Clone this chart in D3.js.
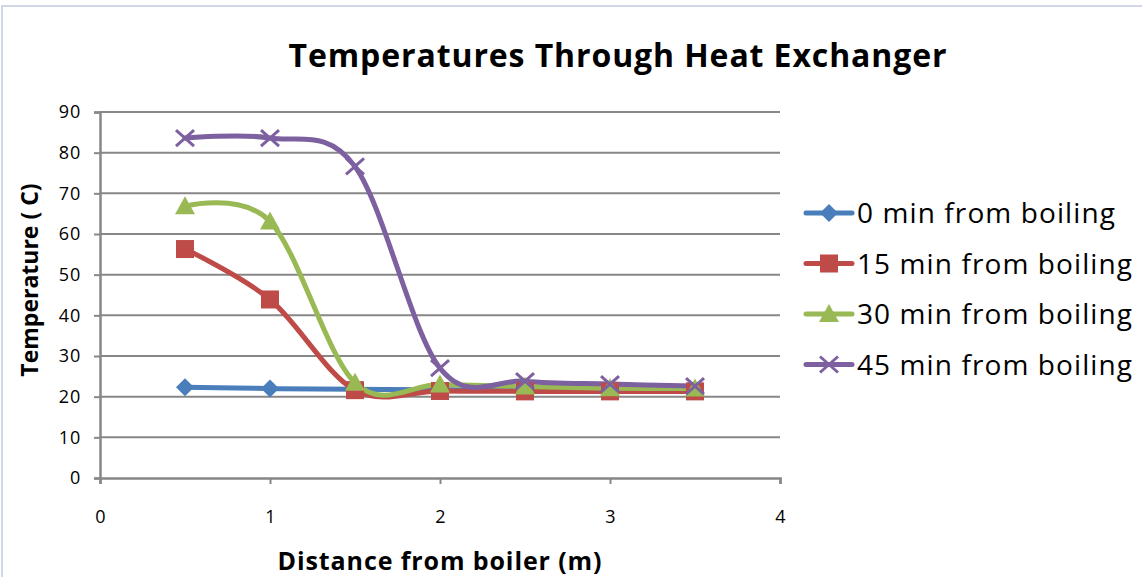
<!DOCTYPE html>
<html>
<head>
<meta charset="utf-8">
<script src="https://cdn.jsdelivr.net/npm/d3@7"></script>
<style>
  html, body { margin: 0; padding: 0; background: #fff; }
  svg { display: block; }
  text { font-family: "Open Sans", "Noto Sans", sans-serif; fill: #000; }
</style>
</head>
<body>
<svg id="chart" width="1142" height="577"></svg>
<script>
// Distance from boiler (m)
const distances = [0.5, 1, 1.5, 2, 2.5, 3, 3.5];

// Temperature (C) for each time after boiling
const temps0  = [22.3, 22.0, 21.8, 21.7, 21.6, 21.5, 21.5];
const temps15 = [56.3, 43.9, 21.6, 21.4, 21.3, 21.3, 21.3];
const temps30 = [66.8, 63.1, 23.4, 23.0, 22.5, 22.1, 22.0];
const temps45 = [83.6, 83.6, 76.6, 27.0, 23.8, 23.1, 22.6];

const seriesNames = ["0 min from boiling", "15 min from boiling", "30 min from boiling", "45 min from boiling"];
const seriesColors = ["#4A7EBB", "#BE4B48", "#98B954", "#7D60A0"];
const seriesMarkers = ["diamond", "square", "triangle", "cross"];

const xTicks = [0, 1, 2, 3, 4];
const yTicks = [0, 10, 20, 30, 40, 50, 60, 70, 80, 90];

const series = [temps0, temps15, temps30, temps45].map((vals, i) => ({
  name: seriesNames[i],
  color: seriesColors[i],
  marker: seriesMarkers[i],
  points: distances.map((d, j) => ({ x: d, y: vals[j] }))
}));

const svg = d3.select("#chart");

// outer chart frame
svg.append("path")
  .attr("d", "M2,577 L2,6 L1142,6")
  .attr("fill", "none")
  .attr("stroke", "#D0D7E5")
  .attr("stroke-width", 2);

const plot = { left: 100, right: 780, top: 112, bottom: 478 };

const x = d3.scaleLinear().domain([0, 4]).range([plot.left, plot.right]);
const y = d3.scaleLinear().domain([0, 90]).range([plot.bottom, plot.top]);

// horizontal gridlines
svg.append("g")
  .selectAll("line")
  .data(yTicks.filter(t => t > 0))
  .join("line")
  .attr("x1", plot.left).attr("x2", plot.right)
  .attr("y1", d => y(d)).attr("y2", d => y(d))
  .attr("stroke", "#878787")
  .attr("stroke-width", 2);

// y axis
const yAxis = svg.append("g")
  .attr("transform", `translate(${plot.left},0)`)
  .call(d3.axisLeft(y).tickValues(yTicks).tickSize(6).tickPadding(13));
yAxis.attr("font-size", null).attr("font-family", null);
yAxis.select(".domain").attr("stroke", "#878787").attr("stroke-width", 2.5);
yAxis.selectAll(".tick line").attr("stroke", "#878787").attr("stroke-width", 2);
yAxis.selectAll(".tick text")
  .style("font-size", "18px")
  .style("letter-spacing", "0.8px")
  .attr("fill", "#000");

// x axis
const xAxis = svg.append("g")
  .attr("transform", `translate(0,${plot.bottom})`)
  .call(d3.axisBottom(x).tickValues(xTicks).tickFormat(d3.format("d")).tickSize(6).tickPadding(26));
xAxis.attr("font-size", null).attr("font-family", null);
xAxis.select(".domain").attr("stroke", "#878787").attr("stroke-width", 2.5);
xAxis.selectAll(".tick line").attr("stroke", "#878787").attr("stroke-width", 2);
xAxis.selectAll(".tick text")
  .style("font-size", "18px")
  .attr("fill", "#000");

// smoothed series lines
const line = d3.line()
  .x(d => x(d.x))
  .y(d => y(d.y))
  .curve(d3.curveCardinal.tension(0));

const lines = svg.append("g");
series.forEach(s => {
  lines.append("path")
    .datum(s.points)
    .attr("d", line)
    .attr("fill", "none")
    .attr("stroke", s.color)
    .attr("stroke-width", 5)
    .attr("stroke-linejoin", "round")
    .attr("stroke-linecap", "round");
});

function drawMarker(g, type, color, cx, cy) {
  if (type === "diamond") {
    g.append("path")
      .attr("d", `M${cx},${cy - 9} L${cx + 9},${cy} L${cx},${cy + 9} L${cx - 9},${cy} Z`)
      .attr("fill", color);
  } else if (type === "square") {
    g.append("rect")
      .attr("x", cx - 9).attr("y", cy - 9)
      .attr("width", 18).attr("height", 18)
      .attr("fill", color);
  } else if (type === "triangle") {
    g.append("path")
      .attr("d", `M${cx},${cy - 10} L${cx + 10},${cy + 8} L${cx - 10},${cy + 8} Z`)
      .attr("fill", color);
  } else if (type === "cross") {
    g.append("path")
      .attr("d", `M${cx - 9},${cy - 8} L${cx + 9},${cy + 8} M${cx - 9},${cy + 8} L${cx + 9},${cy - 8}`)
      .attr("stroke", color)
      .attr("stroke-width", 3)
      .attr("fill", "none");
  }
}

// point markers
const markers = svg.append("g");
series.forEach(s => {
  s.points.forEach(p => drawMarker(markers, s.marker, s.color, x(p.x), y(p.y)));
});

// title
svg.append("text")
  .attr("x", 618).attr("y", 67)
  .attr("text-anchor", "middle")
  .style("font-size", "32px")
  .style("font-weight", "bold")
  .style("letter-spacing", "0.9px")
  .text("Temperatures Through Heat Exchanger");

// axis titles
svg.append("text")
  .attr("transform", `translate(38,280) rotate(-90)`)
  .attr("text-anchor", "middle")
  .style("font-size", "23px")
  .style("font-weight", "bold")
  .text("Temperature ( C)");

svg.append("text")
  .attr("x", 440).attr("y", 570)
  .attr("text-anchor", "middle")
  .style("font-size", "25px")
  .style("font-weight", "bold")
  .style("letter-spacing", "0.9px")
  .text("Distance from boiler (m)");

// legend
const legend = svg.append("g");
series.forEach((s, i) => {
  const ly = 213 + i * 50.5;
  legend.append("line")
    .attr("x1", 806).attr("x2", 852)
    .attr("y1", ly).attr("y2", ly)
    .attr("stroke", s.color)
    .attr("stroke-width", 5)
    .attr("stroke-linecap", "round");
  drawMarker(legend, s.marker, s.color, 829, ly);
  legend.append("text")
    .attr("x", 857).attr("y", ly + 10)
    .style("font-size", "28px")
    .style("letter-spacing", "1.1px")
    .text(s.name);
});
</script>
</body>
</html>
